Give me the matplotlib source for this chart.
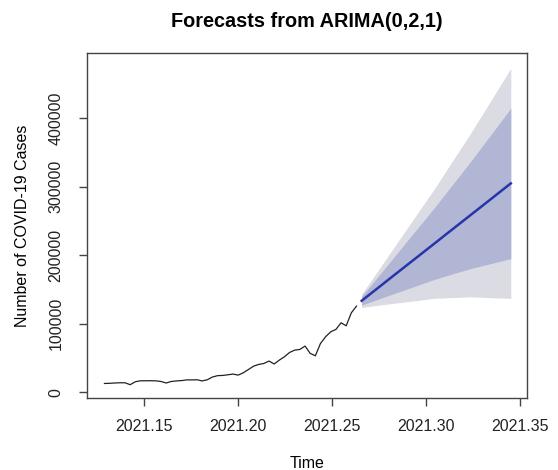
import matplotlib
matplotlib.use("Agg")
import matplotlib.pyplot as plt
import numpy as np

plt.rcParams['font.family'] = ['Liberation Sans', 'DejaVu Sans']

# daily series, ts(start = 2021 + 47/365, frequency = 365)
ts_start = 2021 + 47 / 365
ts_freq = 365

cases = [12600, 12800, 13300, 13600, 13600, 10800, 15100, 16500, 16500, 16600,
         16400, 15500, 13300, 15500, 16300, 16800, 17800, 17800, 18000, 16300,
         18000, 22000, 24000, 24300, 25300, 26300, 24800, 28200, 33000, 37900,
         40400, 41800, 45300, 41000, 46700, 51600, 57900, 61300, 62300, 67200,
         56500, 53000, 71000, 80800, 88100, 91500, 101200, 96800, 115800, 125500]

# 30-day forecast (thousands)
fc_mean = [133.3, 139.2, 145.1, 151.0, 156.9, 162.9, 168.8, 174.7, 180.6, 186.5,
           192.4, 198.3, 204.2, 210.1, 216.0, 221.9, 227.9, 233.8, 239.7, 245.6,
           251.5, 257.4, 263.3, 269.2, 275.1, 281.0, 286.9, 292.9, 298.8, 304.7]
lo80 = [127.0, 129.7, 132.3, 135.0, 137.7, 140.4, 143.0, 145.7, 148.3, 150.9,
        153.6, 156.2, 158.9, 161.5, 164.2, 166.4, 168.8, 171.0, 173.3, 175.5,
        177.7, 180.0, 181.9, 183.7, 185.6, 187.4, 189.3, 191.2, 193.1, 194.9]
hi80 = [139.6, 148.7, 157.9, 167.0, 176.1, 185.4, 194.6, 203.7, 212.9, 222.1,
        231.2, 240.4, 249.5, 258.7, 267.8, 277.4, 287.0, 296.6, 306.1, 315.7,
        325.3, 334.8, 344.7, 354.7, 364.6, 374.6, 384.5, 394.6, 404.5, 414.5]
lo95 = [123.6, 124.6, 125.6, 126.5, 127.5, 128.5, 129.4, 130.3, 131.2, 132.1,
        133.0, 133.9, 134.9, 135.8, 136.8, 137.1, 137.5, 137.8, 138.1, 138.4,
        138.7, 139.1, 138.8, 138.5, 138.2, 137.9, 137.6, 137.4, 137.1, 136.8]
hi95 = [143.0, 153.8, 164.6, 175.5, 186.3, 197.3, 208.2, 219.1, 230.0, 240.9,
        251.8, 262.7, 273.5, 284.4, 295.2, 306.7, 318.3, 329.8, 341.3, 352.8,
        364.3, 375.7, 387.8, 399.9, 412.0, 424.1, 436.2, 448.4, 460.5, 472.6]

x_ticks = [2021.15, 2021.20, 2021.25, 2021.30, 2021.35]
x_labels = ["2021.15", "2021.20", "2021.25", "2021.30", "2021.35"]
y_ticks = [0, 100000, 200000, 300000, 400000]

t_hist = ts_start + np.arange(len(cases)) / ts_freq
t_fc = ts_start + (len(cases) + np.arange(len(fc_mean))) / ts_freq
k = 1000

fig = plt.figure(figsize=(5.58, 4.70), dpi=100)
ax = fig.add_axes([0.156, 0.153, 0.788, 0.734])

ax.fill_between(t_fc, np.array(lo95) * k, np.array(hi95) * k, color="#DBDBE3", lw=0)
ax.fill_between(t_fc, np.array(lo80) * k, np.array(hi80) * k, color="#B1B6D4", lw=0)
ax.plot(t_fc, np.array(fc_mean) * k, color="#2636AA", lw=1.8)
ax.plot(t_hist, cases, color="#222222", lw=0.9)

ax.set_xlim(2021.1195, 2021.3537)
ax.set_ylim(-8760, 494900)
ax.set_xticks(x_ticks, x_labels)
ax.set_yticks(y_ticks, [str(v) for v in y_ticks])
for lab in ax.get_yticklabels():
    lab.set_rotation(90)
    lab.set_va("center")
ax.tick_params(direction="out", length=6, width=1, colors="#444444",
               labelcolor="#222222", labelsize=11.5)
ax.tick_params(axis="x", pad=9)
ax.tick_params(axis="y", pad=11)
for s in ax.spines.values():
    s.set_color("#444444")
    s.set_linewidth(1)

ax.set_title("Forecasts from ARIMA(0,2,1)", fontsize=14.3, fontweight="bold", pad=19)
ax.set_xlabel("Time", fontsize=11.5, labelpad=16)
ax.set_ylabel("Number of COVID-19 Cases", fontsize=11.5, labelpad=13)

fig.savefig("out.png", dpi=100)
